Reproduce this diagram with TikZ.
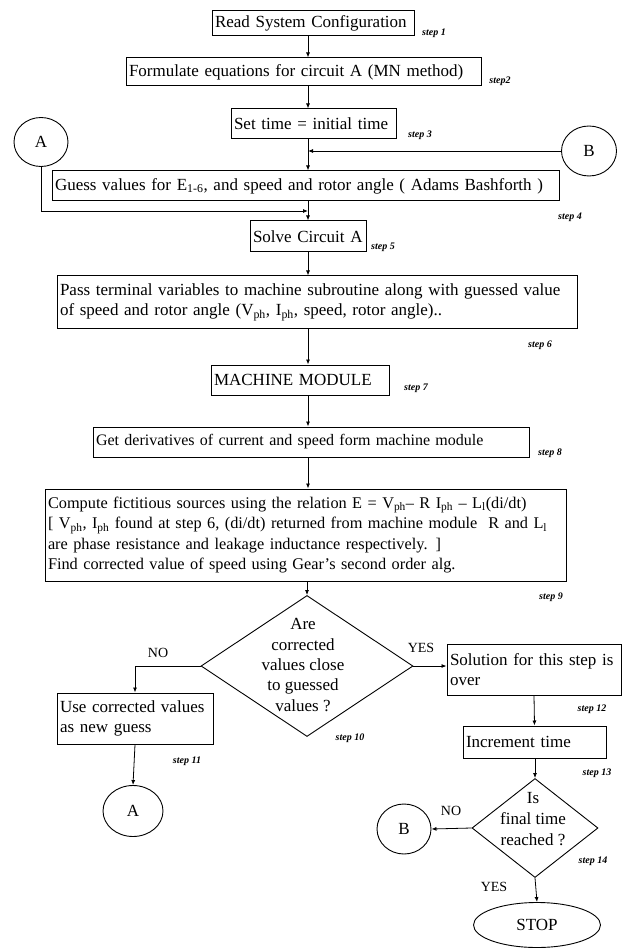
\documentclass[tikz,border=0pt]{standalone}
\usepackage{fontspec}
\setmainfont{Liberation Serif}
\usetikzlibrary{arrows.meta,shapes.geometric}
\newcommand{\mainsz}{\fontsize{17}{20.3}\selectfont}
\newcommand{\smallsz}{\fontsize{16.3}{20.5}\selectfont}
\begin{document}
\begin{tikzpicture}[x=1pt,y=-1pt,
  box/.style={draw, line width=1pt, inner xsep=3pt, inner ysep=0pt, align=left, font=\mainsz},
  stp/.style={font=\fontsize{10}{12}\selectfont\bfseries\itshape, inner sep=0pt},
  lbl/.style={font=\fontsize{14}{16}\selectfont, inner sep=0pt},
  arr/.style={-{Latex[length=5pt,width=4pt]}, line width=0.8pt},
  conn/.style={draw, ellipse, line width=0.9pt, inner sep=0pt, font=\mainsz},
  dia/.style={draw, diamond, line width=0.9pt, inner sep=0pt},
  dtext/.style={align=center, inner sep=0pt, font=\mainsz}
]
\useasboundingbox (0,0) rectangle (629,949);
\coordinate (ax) at (308,0);
\coordinate (j1) at (308,211);

% boxes
\node[box, minimum width=202pt, minimum height=25pt, text width=196pt] (b1) at (313,23.5) {Read System Configuration};
\node[box, minimum width=355pt, minimum height=28pt, text width=349pt] (b2) at (303.5,72) {Formulate equations for circuit A (MN method)};
\node[box, minimum width=165pt, minimum height=30pt, text width=159pt] (b3) at (313.5,124) {Set time = initial time};
\node[box, minimum width=507pt, minimum height=30pt, text width=501pt] (b4) at (305.5,186) {Guess values for E\textsubscript{1-6}, and speed and rotor angle ( Adams Bashforth )};
\node[box, minimum width=116pt, minimum height=31pt, text width=110pt] (b5) at (308,236.5) {Solve Circuit A};
\node[box, minimum width=520pt, minimum height=52pt, text width=514pt] (b6) at (317,302) {Pass terminal variables to machine subroutine along with guessed value\\of speed and rotor angle (V\textsubscript{ph}, I\textsubscript{ph}, speed, rotor angle)..};
\node[box, minimum width=178pt, minimum height=30pt, text width=172pt] (b7) at (300,380) {MACHINE MODULE};
\node[box, minimum width=436pt, minimum height=30pt, text width=430pt, font=\fontsize{16}{20}\selectfont] (b8) at (311,442) {Get derivatives of current and speed form machine module};
\node[box, minimum width=521pt, minimum height=92pt, text width=515pt, font=\smallsz] (b9) at (305.5,535) {Compute fictitious sources using the relation E = V\textsubscript{ph}-- R I\textsubscript{ph} -- L\textsubscript{l}(di/dt)\\{}[ V\textsubscript{ph}, I\textsubscript{ph} found at step 6, (di/dt) returned from machine module\ \ R and L\textsubscript{l}\\are phase resistance and leakage inductance respectively. ]\\Find corrected value of speed using Gear's second order alg.};

% decision 1
\node[dia, minimum width=212pt, minimum height=141pt] (d1) at (307,666) {};
\node[dtext] (t1) at (303,665) {Are\\corrected\\values close\\to guessed\\values ?};

\node[box, minimum width=156pt, minimum height=51pt, text width=150pt] (b11) at (135,718.5) {Use corrected values\\as new guess};
\node[box, minimum width=174pt, minimum height=51pt, text width=168pt] (b12) at (534,669.5) {Solution for this step is\\over};
\node[box, minimum width=143pt, minimum height=32pt, text width=137pt] (b13) at (534.5,742) {Increment time};

% decision 2
\node[dia, minimum width=126pt, minimum height=99pt] (d2) at (535,828) {};
\node[dtext, font=\fontsize{17}{21}\selectfont] (t2) at (533,819) {Is\\final time\\reached ?};

% connectors (circles)
\node[conn, minimum width=54pt, minimum height=49pt] (A1) at (41,142) {A};
\node[conn, minimum width=55pt, minimum height=50pt] (B1) at (589,151) {B};
\node[conn, minimum width=60pt, minimum height=51pt] (A2) at (133,811) {A};
\node[conn, minimum width=54pt, minimum height=50pt] (B2) at (404,829) {B};
\node[conn, minimum width=127pt, minimum height=45pt] (stop) at (537,925) {STOP};

% step labels
\node[stp] (s1) at (434,33) {step 1};
\node[stp] (s2) at (500,81) {step2};
\node[stp] (s3) at (420,135) {step 3};
\node[stp] (s4) at (570,217) {step 4};
\node[stp] (s5) at (383,247) {step 5};
\node[stp] (s6) at (540,345) {step 6};
\node[stp] (s7) at (416,388) {step 7};
\node[stp] (s8) at (550,453) {step 8};
\node[stp] (s9) at (551,597) {step 9};
\node[stp] (s10) at (350,738) {step 10};
\node[stp] (s11) at (187,761) {step 11};
\node[stp] (s12) at (592,709) {step 12};
\node[stp] (s13) at (597,773) {step 13};
\node[stp] (s14) at (593,861) {step 14};

% yes/no labels
\node[lbl] (no1) at (158,653) {NO};
\node[lbl] (yes1) at (421,648) {YES};
\node[lbl] (no2) at (451,811) {NO};
\node[lbl] (yes2) at (494,887) {YES};

% main axis arrows
\draw[arr] (b1.south -| ax) -- (b2.north -| ax);
\draw[arr] (b2.south -| ax) -- (b3.north -| ax);
\draw[arr] (b3.south -| ax) -- (b4.north -| ax);
\draw[arr] (B1.west) -- (B1.west -| ax);
\draw[arr] (A1.south) |- (j1);
\draw[arr] (b4.south -| ax) -- (b5.north -| ax);
\draw[arr] (b5.south -| ax) -- (b6.north -| ax);
\draw[arr] (b6.south -| ax) -- (b7.north -| ax);
\draw[arr] (b7.south -| ax) -- (b8.north -| ax);
\draw[arr] (b8.south -| ax) -- (b9.north -| ax);
\draw[arr] (b9.south -| d1.north) -- (d1.north);

% branches
\draw[arr] (d1.west) -| (b11.north);
\draw[arr] (b11.south) -- (A2.north);
\draw[arr] (d1.east) -- (d1.east -| b12.west);
\draw[arr] (b12.south) -- (b13.north);
\draw[arr] (b13.south -| d2.north) -- (d2.north);
\draw[arr] (d2.west) -- (B2.east);
\draw[arr] (d2.south) -- (stop.north);
\end{tikzpicture}
\end{document}
